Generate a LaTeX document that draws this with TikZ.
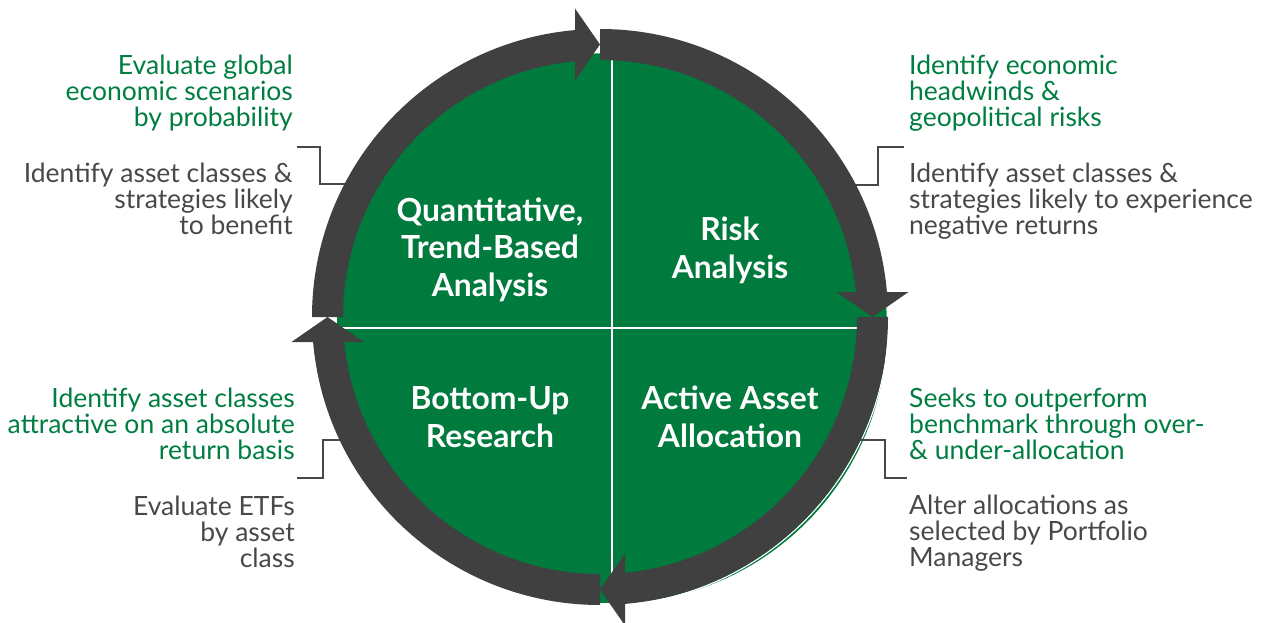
\documentclass[tikz,border=0pt]{standalone}
\usepackage{fontspec}
\setmainfont{Lato}
\usepackage{xcolor}
\usepackage{tikz}
\usetikzlibrary{calc,positioning}

\definecolor{discgreen}{RGB}{0,122,61}
\definecolor{textgreen}{RGB}{0,125,65}
\definecolor{ringgray}{RGB}{64,64,64}
\definecolor{textgray}{RGB}{72,72,72}

\begin{document}
\begin{tikzpicture}[x=1pt,
    y=-1pt,
    line join=miter]
  \tikzstyle{phase}=[text=white,font=\fontsize{31.8}{37.5}\selectfont\bfseries,
                     align=center,anchor=base,inner sep=0pt]
  \tikzstyle{goal}=[text=textgreen,font=\fontsize{26.5}{26}\selectfont,inner sep=0pt]
  \tikzstyle{task}=[text=textgray,font=\fontsize{26.5}{26}\selectfont,inner sep=0pt]
  \tikzstyle{bracket}=[draw=textgray,line width=2.6pt]
  \tikzstyle{ringpart}=[fill=ringgray]

  \useasboundingbox (0,0) rectangle (1263,623);

  \coordinate (O) at (612,328);
  \coordinate (C) at (600,317);

  % green disc with its four quadrants
  \fill[discgreen] (O) circle (275);
  \draw[white,line width=1.5pt] ($(O)+(0,-275)$) -- ($(O)+(0,275)$)
                                ($(O)+(-275,0)$) -- ($(O)+(275,0)$);
  \draw[white,line width=1.2pt] (C) circle (288.8);

  % brackets from the ring to the texts
  \coordinate (r1) at (348,184); \coordinate (e1) at (297,147);
  \coordinate (r2) at (853,185); \coordinate (e2) at (904,147);
  \coordinate (r3) at (343,440); \coordinate (e3) at (297,478);
  \coordinate (r4) at (856,440); \coordinate (e4) at (907,478);
  \draw[bracket] (r1) -- ++(-28,0) |- (e1);
  \draw[bracket] (r2) -- ++(25,0)  |- (e2);
  \draw[bracket] (r3) -- ++(-20,0) |- (e3);
  \draw[bracket] (r4) -- ++(29,0)  |- (e4);

  % ring of four arrows, clockwise
  \foreach \a in {0,90,180,270}{
    \begin{scope}[shift={(C)},rotate=-\a]
      \path[ringpart] (180:288) arc[start angle=180,end angle=265,radius=288]
        -- (265:257) arc[start angle=265,end angle=180,radius=257] -- cycle;
      \path[ringpart] (-25,-308.5) -- (0,-272.5) -- (-25,-236.5) -- cycle;
    \end{scope}
  }

  % phases
  \node[phase] (quant) at (490,296) {Quantitative,\\Trend-Based\\Analysis};
  \node[phase] (risk)  at (730,278) {Risk\\Analysis};
  \node[phase] (bottom) at (490,447) {Bottom-Up\\Research};
  \node[phase] (active) at (730,447) {Active Asset\\Allocation};

  % side texts
  \node[goal,align=right,anchor=base east] (g1) at (293,127)
    {Evaluate global\\economic scenarios\\by probability};
  \node[task,align=right,anchor=base east] (t1) at (293,234)
    {Identify asset classes \&\\strategies likely\\to benefit};
  \node[goal,align=left,anchor=base west] (g2) at (909,127)
    {Identify economic\\headwinds \&\\geopolitical risks};
  \node[task,align=left,anchor=base west] (t2) at (909,234)
    {Identify asset classes \&\\strategies likely to experience\\negative returns};
  \node[goal,align=right,anchor=base east] (g3) at (295,459)
    {Identify asset classes\\attractive on an absolute\\return basis};
  \node[task,align=right,anchor=base east] (t3) at (295,567)
    {Evaluate ETFs\\by asset\\class};
  \node[goal,align=left,anchor=base west] (g4) at (909,459)
    {Seeks to outperform\\benchmark through over-\\\& under-allocation};
  \node[task,align=left,anchor=base west] (t4) at (909,566)
    {Alter allocations as\\selected by Portfolio\\Managers};
\end{tikzpicture}
\end{document}
